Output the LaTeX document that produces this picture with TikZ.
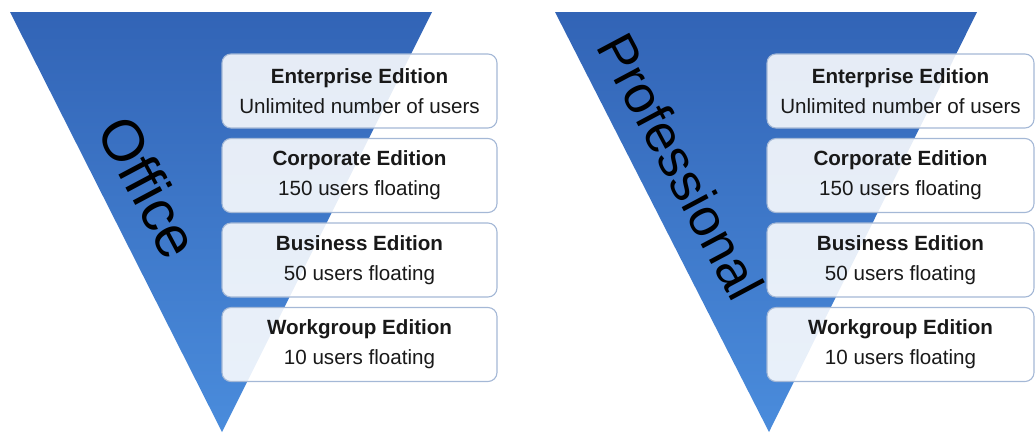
\documentclass[tikz,border=0pt]{standalone}
\usepackage{fontspec}
\setmainfont{Liberation Sans}
\definecolor{funneltop}{RGB}{50,100,182}
\definecolor{funnelbottom}{RGB}{74,140,220}
\definecolor{boxline}{RGB}{164,184,214}
\begin{document}
\begin{tikzpicture}[x=1pt,y=-1pt,
  funnel/.style={top color=funneltop, bottom color=funnelbottom, draw=none},
  edition/.style={draw=boxline, line width=1.1pt, fill=white, fill opacity=0.88,
    text opacity=1, rounded corners=9pt, minimum height=74pt, align=center,
    inner sep=0pt, font=\fontsize{20.6}{30}\selectfont, text=black!90},
  tier/.style={rotate=-62, text=black, inner sep=0pt}
]
\useasboundingbox (0,0) rectangle (1035,432);

% the two funnels
\shade[funnel] (10,12) -- (432,12) -- (222,432) -- cycle;
\shade[funnel] (555,12) -- (977,12) -- (769,432) -- cycle;

% funnel titles
\node[tier, font=\fontsize{58}{58}\selectfont] (office) at (149,187) {Office};
\node[tier, font=\fontsize{53}{53}\selectfont] (pro) at (681,166) {Professional};

% editions, left funnel
\node[edition, minimum width=275pt] (le1) at (359.5,91)
  {\textbf{Enterprise Edition}\\Unlimited number of users};
\node[edition, minimum width=275pt] (le2) at (359.5,175.5)
  {\textbf{Corporate Edition}\\150 users floating};
\node[edition, minimum width=275pt] (le3) at (359.5,260)
  {\textbf{Business Edition}\\50 users floating};
\node[edition, minimum width=275pt] (le4) at (359.5,344.5)
  {\textbf{Workgroup Edition}\\10 users floating};

% editions, right funnel
\node[edition, minimum width=267pt] (re1) at (900.5,91)
  {\textbf{Enterprise Edition}\\Unlimited number of users};
\node[edition, minimum width=267pt] (re2) at (900.5,175.5)
  {\textbf{Corporate Edition}\\150 users floating};
\node[edition, minimum width=267pt] (re3) at (900.5,260)
  {\textbf{Business Edition}\\50 users floating};
\node[edition, minimum width=267pt] (re4) at (900.5,344.5)
  {\textbf{Workgroup Edition}\\10 users floating};
\end{tikzpicture}
\end{document}
